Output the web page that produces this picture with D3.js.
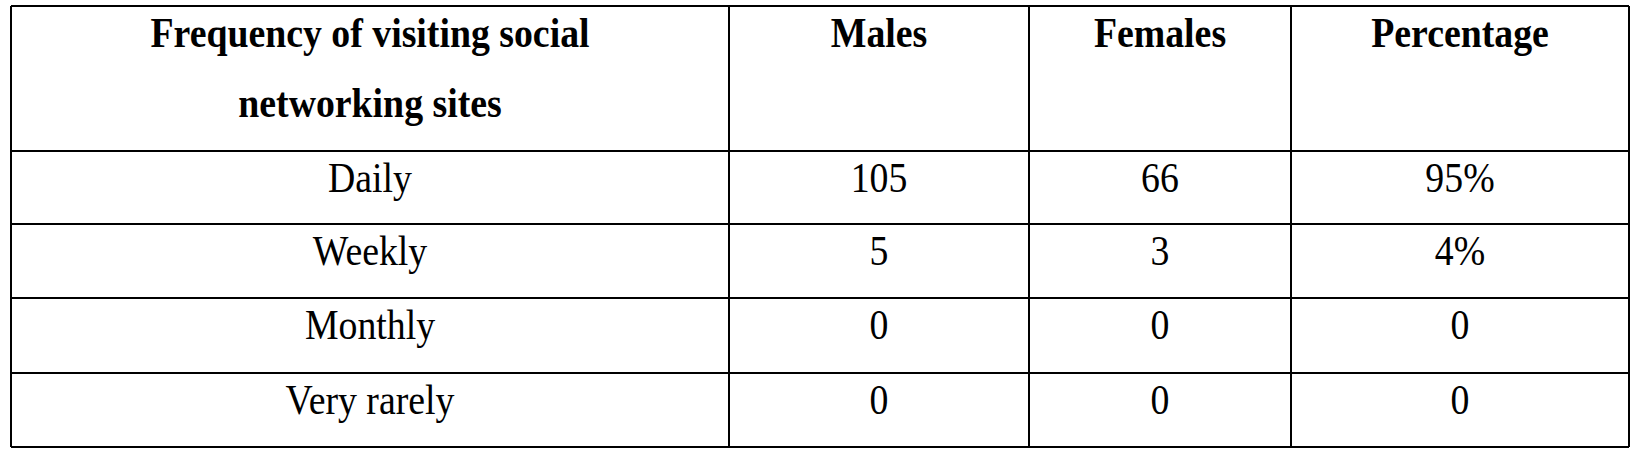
<!DOCTYPE html>
<html><head><meta charset="utf-8">
<script src="https://cdn.jsdelivr.net/npm/d3@7"></script>
<style>body{margin:0;background:#fff}</style>
</head><body>
<script>
var headers = [["Frequency of visiting social", "networking sites"], ["Males"], ["Females"], ["Percentage"]];
var categories = ["Daily", "Weekly", "Monthly", "Very rarely"];
var males = ["105", "5", "0", "0"];
var females = ["66", "3", "0", "0"];
var percentage = ["95%", "4%", "0", "0"];

var w = 1647, h = 450;
var colEdges = [11, 729, 1029, 1291, 1629];
var rowEdges = [6, 151, 224, 298, 373, 447];
var sx = 0.9;

var svg = d3.select("body").append("svg").attr("width", w).attr("height", h);

// grid lines
svg.selectAll("line.h").data(rowEdges).enter().append("line")
   .attr("x1", colEdges[0]).attr("x2", colEdges[4])
   .attr("y1", function(d){ return d; }).attr("y2", function(d){ return d; })
   .attr("stroke", "#000").attr("stroke-width", 2);
svg.selectAll("line.v").data(colEdges).enter().append("line")
   .attr("y1", rowEdges[0]).attr("y2", rowEdges[5])
   .attr("x1", function(d){ return d; }).attr("x2", function(d){ return d; })
   .attr("stroke", "#000").attr("stroke-width", 2);

function cx(i){ return (colEdges[i] + colEdges[i+1]) / 2; }

// slightly condensed text, like the scanned table
function put(x, y, t, bold){
  svg.append("text")
     .attr("transform", "translate(" + x + "," + y + ") scale(" + sx + ",1)")
     .attr("text-anchor", "middle").attr("font-family", "Liberation Serif")
     .attr("font-weight", bold ? "bold" : "normal")
     .attr("font-size", 42).text(t);
}

headers.forEach(function(lines, i){
  lines.forEach(function(t, j){ put(cx(i), 47 + j * 70, t, true); });
});

var cols = [categories, males, females, percentage];
cols.forEach(function(col, i){
  col.forEach(function(d, r){ put(cx(i), rowEdges[r+1] + 41, d, false); });
});
</script>
</body></html>
